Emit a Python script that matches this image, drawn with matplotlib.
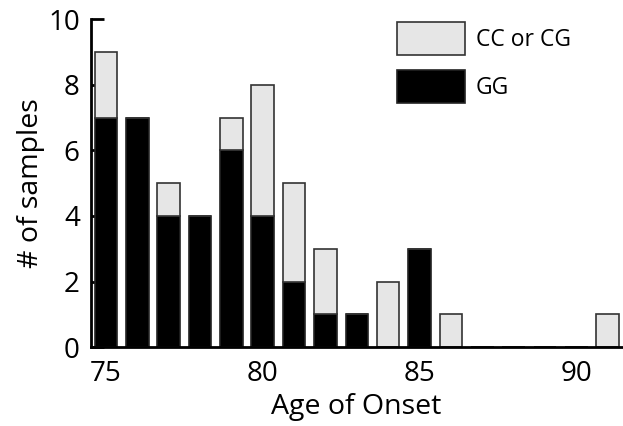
import matplotlib
matplotlib.use("Agg")
import matplotlib.pyplot as plt
import numpy as np

ages = list(range(75, 92))
gg = [7, 7, 4, 4, 6, 4, 2, 1, 1, 0, 3, 0, 0, 0, 0, 0, 0]
cc_cg = [2, 0, 1, 0, 1, 4, 3, 2, 0, 2, 0, 1, 0, 0, 0, 0, 1]
xticks = [75, 80, 85, 90]
yticks = [0, 2, 4, 6, 8, 10]

plt.rcParams['font.family'] = ['Open Sans', 'DejaVu Sans']

fig = plt.figure(figsize=(6.23, 4.26), dpi=100)
ax = fig.add_axes([0.146, 0.185, 0.852, 0.770])

w = 0.72
ax.bar(ages, gg, width=w, color='black', edgecolor='#222222', linewidth=1.2, label='GG', zorder=2)
ax.bar(ages, cc_cg, width=w, bottom=gg, color='#e6e6e6', edgecolor='#333333', linewidth=1.2,
       label='CC or CG', zorder=2)

ax.set_xlim(74.52, 91.45)
ax.set_ylim(0, 10)
ax.set_xticks(xticks)
ax.set_yticks(yticks)
ax.tick_params(axis='both', direction='in', length=9, width=2, labelsize=20)
ax.tick_params(axis='x', length=0, pad=9)
ax.tick_params(axis='y', pad=8)
for s in ['top', 'right']:
    ax.spines[s].set_visible(False)
for s in ['left', 'bottom']:
    ax.spines[s].set_linewidth(2)
ax.spines['left'].set_zorder(3)

ax.set_xlabel('Age of Onset', fontsize=20.5, labelpad=4)
ax.set_ylabel('# of samples', fontsize=20.5, labelpad=2)

h, l = ax.get_legend_handles_labels()
leg = ax.legend(h[::-1], l[::-1], loc='upper left', frameon=False, fontsize=16.5,
                handlelength=3.0, handleheight=1.8, labelspacing=0.68,
                handletextpad=0.45, borderaxespad=0, borderpad=0,
                bbox_to_anchor=(0.576, 0.99))

fig.savefig('out.png', dpi=100)
